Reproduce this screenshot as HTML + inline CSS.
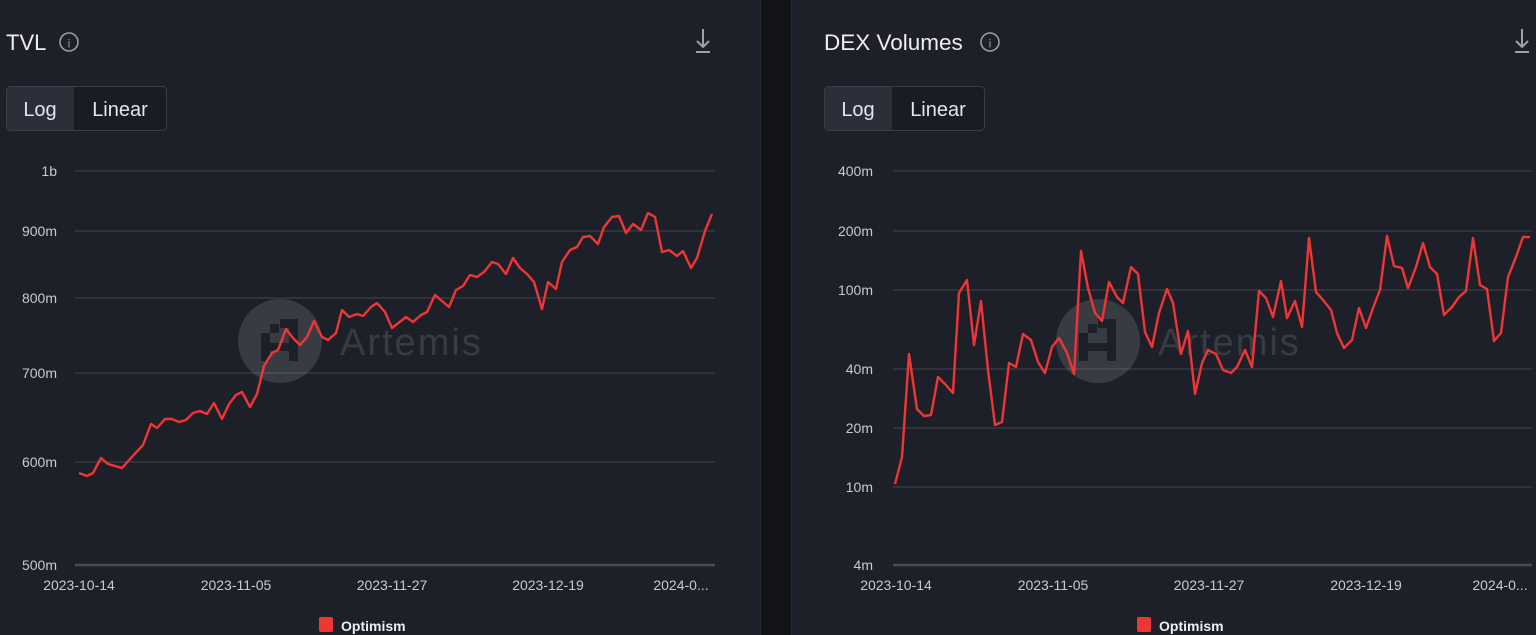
<!DOCTYPE html>
<html><head><meta charset="utf-8"><style>
html,body{margin:0;padding:0;background:#131418;}
svg{display:block;font-family:"Liberation Sans",sans-serif;}
</style></head><body>
<svg width="1536" height="635" viewBox="0 0 1536 635" xmlns="http://www.w3.org/2000/svg">
<rect x="0" y="0" width="760" height="635" fill="#1e2029"/>
<rect x="760" y="0" width="1" height="635" fill="#2a2c35"/>
<rect x="791" y="0" width="745" height="635" fill="#1e2029"/>
<rect x="791" y="0" width="1" height="635" fill="#2a2c35"/>

<!-- LEFT PANEL -->
<text x="6" y="50" font-size="22" fill="#eceef2">TVL</text>
<circle cx="69" cy="42" r="9" fill="none" stroke="#9a9ca4" stroke-width="1.6"/>
<text x="69" y="47.5" font-size="12" fill="#9a9ca4" text-anchor="middle">i</text>
<g stroke="#a0a2a8" stroke-width="2" fill="none"><line x1="703" y1="29" x2="703" y2="47"/><polyline points="697,41 703,47 709,41"/><line x1="696" y1="52" x2="710" y2="52"/></g>
<rect x="6.5" y="86.5" width="160" height="44" rx="4" fill="#1a1c24" stroke="#3a3c46"/>
<path d="M11,87 H74 V130 H11 a4,4 0 0 1 -4,-4 V91 a4,4 0 0 1 4,-4Z" fill="#2c2e3a"/>
<text x="40" y="116" font-size="20" fill="#e4e6ea" text-anchor="middle">Log</text>
<text x="120" y="116" font-size="20" fill="#e4e6ea" text-anchor="middle">Linear</text>
<g stroke="#3b3d48" stroke-width="1.3">
<line x1="75" y1="171" x2="715" y2="171"/><line x1="75" y1="231" x2="715" y2="231"/><line x1="75" y1="298" x2="715" y2="298"/><line x1="75" y1="373" x2="715" y2="373"/><line x1="75" y1="462" x2="715" y2="462"/></g>
<line x1="75" y1="565" x2="715" y2="565" stroke="#4a4c58" stroke-width="2.5"/>
<g font-size="14" fill="#c8cad0" text-anchor="end">
<text x="57" y="176">1b</text><text x="57" y="236">900m</text><text x="57" y="303">800m</text><text x="57" y="378">700m</text><text x="57" y="467">600m</text><text x="57" y="570">500m</text></g>
<g font-size="14" fill="#c8cad0" text-anchor="middle">
<text x="79" y="590">2023-10-14</text><text x="236" y="590">2023-11-05</text><text x="392" y="590">2023-11-27</text><text x="548" y="590">2023-12-19</text><text x="681" y="590">2024-0...</text></g>
<circle cx="280" cy="341" r="42" fill="#ffffff" fill-opacity="0.12"/>
<g fill="#1e2029"><rect x="261" y="333" width="9" height="28"/><rect x="270" y="324" width="9" height="9"/><rect x="280" y="319" width="17" height="9"/><rect x="289" y="319" width="9" height="42"/><rect x="270" y="343" width="20" height="8"/></g>
<text x="340" y="355" font-size="38" letter-spacing="2" fill="#ffffff" fill-opacity="0.12">Artemis</text>
<polyline fill="none" stroke="#f03535" stroke-width="2.4" stroke-linejoin="round" points="79,473 87,476 93,473 101,458 108,464 122,468 130,459 143,445 151,424 157,428 165,419 172,419 179,422 186,420 193,413 200,411 207,414 214,403 222,419 229,404 236,395 242,392 250,407 257,394 264,366 272,353 278,350 286,329 293,338 300,345 307,337 314,321 322,337 328,340 336,333 342,310 349,317 357,314 363,316 371,307 377,303 385,312 392,328 406,317 413,322 421,315 427,312 435,295 449,307 456,290 463,286 470,275 477,277 484,272 492,262 498,264 506,274 513,258 520,268 527,274 534,282 542,309 548,282 556,289 562,262 570,250 577,247 583,237 590,236 598,244 604,227 612,217 619,216 626,233 633,224 641,230 648,213 655,217 662,252 669,250 677,256 683,251 691,268 697,258 705,231 712,214"/>
<rect x="319" y="617" width="14" height="15" rx="2" fill="#f03535"/>
<text x="341" y="631" font-size="14" font-weight="bold" fill="#eceef2">Optimism</text>

<!-- RIGHT PANEL -->
<text x="824" y="50" font-size="22.5" fill="#eceef2">DEX Volumes</text>
<circle cx="990" cy="42" r="9" fill="none" stroke="#9a9ca4" stroke-width="1.6"/>
<text x="990" y="47.5" font-size="12" fill="#9a9ca4" text-anchor="middle">i</text>
<g stroke="#a0a2a8" stroke-width="2" fill="none"><line x1="1522" y1="29" x2="1522" y2="47"/><polyline points="1516,41 1522,47 1528,41"/><line x1="1515" y1="52" x2="1529" y2="52"/></g>
<rect x="824.5" y="86.5" width="160" height="44" rx="4" fill="#1a1c24" stroke="#3a3c46"/>
<path d="M829,87 H892 V130 H829 a4,4 0 0 1 -4,-4 V91 a4,4 0 0 1 4,-4Z" fill="#2c2e3a"/>
<text x="858" y="116" font-size="20" fill="#e4e6ea" text-anchor="middle">Log</text>
<text x="938" y="116" font-size="20" fill="#e4e6ea" text-anchor="middle">Linear</text>
<g stroke="#3b3d48" stroke-width="1.3">
<line x1="893" y1="171" x2="1532" y2="171"/><line x1="893" y1="231" x2="1532" y2="231"/><line x1="893" y1="290" x2="1532" y2="290"/><line x1="893" y1="369" x2="1532" y2="369"/><line x1="893" y1="428" x2="1532" y2="428"/><line x1="893" y1="487" x2="1532" y2="487"/></g>
<line x1="893" y1="565" x2="1532" y2="565" stroke="#4a4c58" stroke-width="2.5"/>
<g font-size="14" fill="#c8cad0" text-anchor="end">
<text x="873" y="176">400m</text><text x="873" y="236">200m</text><text x="873" y="295">100m</text><text x="873" y="374">40m</text><text x="873" y="433">20m</text><text x="873" y="492">10m</text><text x="873" y="570">4m</text></g>
<g font-size="14" fill="#c8cad0" text-anchor="middle">
<text x="896" y="590">2023-10-14</text><text x="1053" y="590">2023-11-05</text><text x="1209" y="590">2023-11-27</text><text x="1366" y="590">2023-12-19</text><text x="1500" y="590">2024-0...</text></g>
<circle cx="1098" cy="341" r="42" fill="#ffffff" fill-opacity="0.12"/>
<g fill="#1e2029"><rect x="1079" y="333" width="9" height="28"/><rect x="1088" y="324" width="9" height="9"/><rect x="1098" y="319" width="17" height="9"/><rect x="1107" y="319" width="9" height="42"/><rect x="1088" y="343" width="20" height="8"/></g>
<text x="1158" y="355" font-size="38" letter-spacing="2" fill="#ffffff" fill-opacity="0.12">Artemis</text>
<polyline fill="none" stroke="#f03535" stroke-width="2.4" stroke-linejoin="round" points="895,484 902,457 909,354 917,409 924,416 931,415 938,377 945,384 953,393 959,293 967,280 974,345 981,301 988,370 995,425 1002,422 1009,363 1016,367 1023,334 1031,340 1038,362 1045,373 1052,347 1059,338 1067,353 1074,374 1081,251 1088,288 1095,313 1102,321 1109,282 1117,297 1123,303 1131,267 1138,274 1145,332 1152,347 1159,313 1167,289 1173,303 1181,354 1188,331 1195,394 1202,363 1208,350 1216,354 1223,370 1231,373 1237,367 1245,350 1252,367 1259,291 1266,298 1273,317 1281,281 1287,318 1295,301 1302,327 1309,238 1316,292 1323,300 1331,310 1337,333 1344,348 1352,340 1359,308 1366,328 1373,308 1380,290 1387,236 1394,266 1402,268 1408,288 1416,267 1423,243 1430,267 1437,274 1444,315 1452,307 1459,297 1466,291 1473,238 1480,285 1487,289 1494,341 1501,333 1508,277 1516,257 1523,237 1530,237"/>
<rect x="1137" y="617" width="14" height="15" rx="2" fill="#f03535"/>
<text x="1159" y="631" font-size="14" font-weight="bold" fill="#eceef2">Optimism</text>
</svg>
</body></html>
